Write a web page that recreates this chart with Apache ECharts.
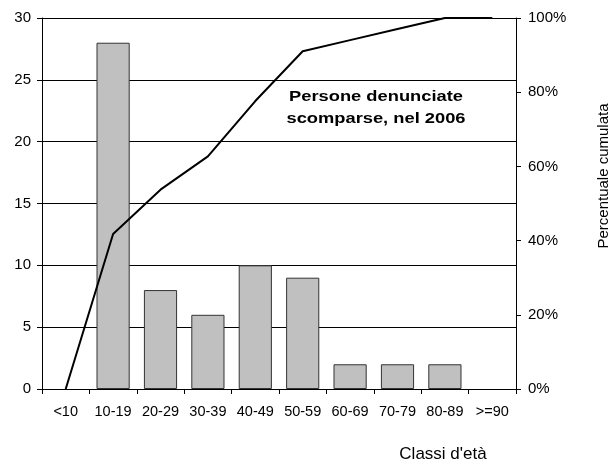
<!DOCTYPE html>
<html>
<head>
<meta charset="utf-8">
<script src="https://cdn.jsdelivr.net/npm/echarts@6/dist/echarts.min.js"></script>
<style>
  html, body { margin: 0; padding: 0; background: #fff; }
  #chart { width: 613px; height: 464px; }
</style>
</head>
<body>
<div id="chart"></div>
<script>
// Age classes and number of people reported missing in 2006
const classi = ['<10', '10-19', '20-29', '30-39', '40-49', '50-59', '60-69', '70-79', '80-89', '>=90'];
const persone = [0, 28, 8, 6, 10, 9, 2, 2, 2, 0];
const leftTicks = [0, 5, 10, 15, 20, 25, 30];
const rightTicks = [0, 20, 40, 60, 80, 100];

// Cumulative percentage derived from the counts
const totale = persone.reduce((a, b) => a + b, 0);
let acc = 0;
const cumulata = persone.map(v => { acc += v; return acc / totale * 100; });

// Empty classes get no outline so nothing shows on the baseline
const barData = persone.map(v => ({
  value: v,
  itemStyle: v === 0 ? { borderWidth: 0 } : undefined
}));

const FONT = 'Liberation Sans, Arial, sans-serif';
const chart = echarts.init(document.getElementById('chart'), null, { renderer: 'canvas' });

chart.setOption({
  animation: false,
  backgroundColor: '#ffffff',
  grid: { left: 42, right: 97, top: 18, bottom: 75 },
  xAxis: {
    type: 'category',
    data: classi,
    axisLine: { lineStyle: { color: '#000', width: 1 } },
    axisTick: { show: true, alignWithLabel: false, interval: 0, length: 5, lineStyle: { color: '#000' } },
    axisLabel: { color: '#000', fontFamily: FONT, fontSize: 14.5, margin: 15, interval: 0 }
  },
  yAxis: [
    {
      type: 'value',
      min: leftTicks[0],
      max: leftTicks[leftTicks.length - 1],
      interval: 5,
      axisLine: { show: true, lineStyle: { color: '#000' } },
      axisTick: { show: true, length: 5, lineStyle: { color: '#000' } },
      axisLabel: { color: '#000', fontFamily: FONT, fontSize: 15, margin: 11 },
      splitLine: { show: true, lineStyle: { color: '#000', width: 1 } }
    },
    {
      type: 'value',
      position: 'right',
      min: rightTicks[0],
      max: rightTicks[rightTicks.length - 1],
      interval: 20,
      axisLine: { show: true, lineStyle: { color: '#000' } },
      axisTick: { show: true, length: 5, lineStyle: { color: '#000' } },
      axisLabel: { color: '#000', fontFamily: FONT, fontSize: 15, margin: 12, formatter: '{value}%' },
      splitLine: { show: false }
    }
  ],
  series: [
    {
      type: 'bar',
      data: barData,
      yAxisIndex: 0,
      barCategoryGap: '30%',
      itemStyle: { color: '#c0c0c0', borderColor: '#333', borderWidth: 1 }
    },
    {
      type: 'line',
      data: cumulata,
      yAxisIndex: 1,
      symbol: 'none',
      lineStyle: { color: '#000', width: 2 },
      z: 5
    }
  ],
  graphic: [
    {
      type: 'text',
      x: 376, y: 108,
      scaleX: 1.22,
      style: {
        text: 'Persone denunciate\nscomparse, nel 2006',
        font: 'bold 15px ' + FONT,
        fill: '#000',
        textAlign: 'center',
        textVerticalAlign: 'middle',
        lineHeight: 22
      }
    },
    {
      type: 'text',
      x: 604, y: 176,
      rotation: Math.PI / 2,
      style: {
        text: 'Percentuale cumulata',
        font: '15px ' + FONT,
        fill: '#000',
        textAlign: 'center',
        textVerticalAlign: 'middle'
      }
    },
    {
      type: 'text',
      x: 443, y: 454,
      style: {
        text: "Classi d'età",
        font: '17px ' + FONT,
        fill: '#000',
        textAlign: 'center',
        textVerticalAlign: 'middle'
      }
    }
  ]
});
</script>
</body>
</html>
